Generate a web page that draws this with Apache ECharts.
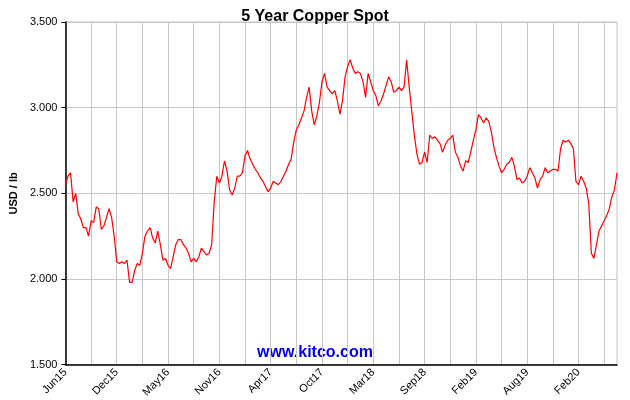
<!DOCTYPE html>
<html>
<head>
<meta charset="utf-8">
<script src="https://cdn.jsdelivr.net/npm/echarts@6/dist/echarts.min.js"></script>
<style>html,body{margin:0;padding:0;background:#fff}#chart{width:630px;height:400px}</style>
</head>
<body>
<div id="chart"></div>
<script>
// tick labels, one every 20 samples
var tickLabels = ['Jun15', 'Dec15', 'May16', 'Nov16', 'Apr17', 'Oct17', 'Mar18', 'Sep18', 'Feb19', 'Aug19', 'Feb20'];

// copper spot, USD / lb
var prices = [
    2.55, 2.60, 2.62, 2.45, 2.50, 2.38, 2.35, 2.30, 2.30, 2.25,
    2.34, 2.33, 2.42, 2.41, 2.29, 2.31, 2.36, 2.41, 2.36, 2.25,
    2.10, 2.09, 2.10, 2.09, 2.11, 1.98, 1.98, 2.05, 2.09, 2.08,
    2.15, 2.25, 2.28, 2.30, 2.24, 2.21, 2.28, 2.20, 2.11, 2.12,
    2.08, 2.06, 2.13, 2.20, 2.23, 2.23, 2.20, 2.18, 2.15, 2.10,
    2.12, 2.10, 2.13, 2.18, 2.16, 2.14, 2.15, 2.20, 2.45, 2.60,
    2.56, 2.60, 2.69, 2.63, 2.52, 2.49, 2.53, 2.60, 2.60, 2.62,
    2.72, 2.75, 2.70, 2.67, 2.64, 2.62, 2.59, 2.57, 2.54, 2.51,
    2.53, 2.57, 2.56, 2.55, 2.57, 2.60, 2.63, 2.67, 2.70, 2.80,
    2.87, 2.90, 2.94, 2.98, 3.06, 3.12, 2.98, 2.90, 2.95, 3.03,
    3.15, 3.20, 3.12, 3.10, 3.08, 3.10, 3.04, 2.96, 3.04, 3.18,
    3.24, 3.28, 3.23, 3.20, 3.21, 3.20, 3.15, 3.06, 3.20, 3.15,
    3.10, 3.07, 3.01, 3.04, 3.08, 3.13, 3.18, 3.15, 3.09, 3.10,
    3.12, 3.10, 3.12, 3.28, 3.12, 2.98, 2.84, 2.73, 2.67, 2.68,
    2.74, 2.68, 2.84, 2.82, 2.83, 2.81, 2.79, 2.74, 2.78, 2.81,
    2.82, 2.84, 2.74, 2.71, 2.66, 2.63, 2.69, 2.68, 2.74, 2.81,
    2.87, 2.96, 2.94, 2.91, 2.94, 2.92, 2.86, 2.77, 2.71, 2.66,
    2.62, 2.64, 2.67, 2.68, 2.71, 2.66, 2.58, 2.59, 2.56, 2.57,
    2.60, 2.65, 2.62, 2.59, 2.53, 2.58, 2.60, 2.65, 2.62, 2.63,
    2.64, 2.64, 2.63, 2.76, 2.81, 2.80, 2.81, 2.79, 2.76, 2.57,
    2.55, 2.60, 2.57, 2.53, 2.44, 2.15, 2.12, 2.20, 2.28, 2.31,
    2.34, 2.37, 2.41, 2.48, 2.52, 2.62
];

var categories = [];
for (var i = 0; i < prices.length; i++) {
    categories.push(String(i));
}

var chart = echarts.init(document.getElementById('chart'));
chart.setOption({
    animation: false,
    title: {
        text: '5 Year Copper Spot',
        left: 'center',
        top: 4,
        textStyle: {fontFamily: 'Liberation Sans', fontSize: 16, fontWeight: 'bold', color: '#000'}
    },
    graphic: [{
        type: 'text',
        left: 'center',
        top: 345,
        style: {text: 'www.kitco.com', fontFamily: 'Liberation Sans', fontSize: 16, fontWeight: 'bold', fill: '#0000ee'}
    }],
    grid: {
        left: 62, right: 13, top: 22, bottom: 35,
        show: true, borderColor: '#c0c0c0', borderWidth: 1
    },
    xAxis: {
        type: 'category',
        data: categories,
        boundaryGap: false,
        axisLine: {lineStyle: {color: '#000', width: 1.5}},
        axisTick: {show: false},
        splitLine: {show: true, interval: 9, lineStyle: {color: '#c8c8c8'}},
        axisLabel: {
            interval: 19,
            rotate: 45,
            margin: 6,
            fontFamily: 'Liberation Sans',
            fontSize: 11,
            color: '#000',
            formatter: function (v, idx) {
                return tickLabels[idx / 20] || '';
            }
        }
    },
    yAxis: {
        type: 'value',
        min: 1.5, max: 3.5, interval: 0.5,
        name: 'USD / lb',
        nameLocation: 'middle',
        nameGap: 36,
        nameTextStyle: {fontFamily: 'Liberation Sans', fontSize: 11, fontWeight: 'bold', color: '#000'},
        axisLine: {show: true, lineStyle: {color: '#000', width: 1.5}},
        axisTick: {show: true, length: 4, lineStyle: {color: '#000'}},
        splitLine: {lineStyle: {color: '#c8c8c8'}},
        axisLabel: {
            fontFamily: 'Liberation Sans', fontSize: 11, color: '#000',
            formatter: function (v) { return v.toFixed(3); }
        }
    },
    series: [{
        type: 'line',
        data: prices,
        showSymbol: false,
        lineStyle: {color: '#ff0000', width: 1.2},
        itemStyle: {color: '#ff0000'}
    }]
});
</script>
</body>
</html>
